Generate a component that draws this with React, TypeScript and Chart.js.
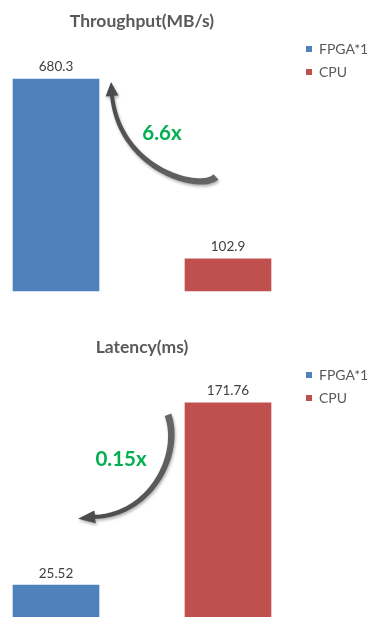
import React, { useEffect, useRef } from 'react';
import { Chart, registerables } from 'chart.js';

Chart.register(...registerables);

// ---- data ----
const CATEGORIES = ['FPGA*1', 'CPU'];
const THROUGHPUT = [680.3, 102.9];
const LATENCY = [25.52, 171.76];
const TITLES = ['Throughput(MB/s)', 'Latency(ms)'];
const COLORS = ['#4f81bd', '#c0504d'];

const FONT = 'Lato';

// canvas is shifted left so the plot area (and the title centred on it) matches the reference
const CANVAS_SHIFT = 13;
const CANVAS_W = 372 + CANVAS_SHIFT;

type Pt = [number, number];
type ArrowSpec = { p0: Pt; c1: Pt; c2: Pt; p3: Pt; tip: Pt; text: Pt };

// Arrow geometry in "bar space": u from FPGA bar centre (0) to CPU bar centre (1),
// v from the taller bar's top (0) to the shorter bar's top (1).
const ARROW_UP: ArrowSpec = {
  p0: [0.93, 0.544], c1: [0.837, 0.628], c2: [0.372, 0.506], p3: [0.326, 0.094], tip: [0.32, 0.017], text: [0.616, 0.3],
};
const ARROW_DOWN: ArrowSpec = {
  p0: [0.651, 0.065], c1: [0.733, 0.288], c2: [0.547, 0.614], p3: [0.227, 0.625], tip: [0.128, 0.636], text: [0.378, 0.31],
};

function annotationPlugin(ratioLabel: string, arrow: ArrowSpec) {
  return {
    id: 'annot',
    afterDatasetsDraw(chart: any) {
      const ctx: CanvasRenderingContext2D = chart.ctx;
      const bars = chart.data.datasets.map((_: any, i: number) => chart.getDatasetMeta(i).data[0]);
      // value labels
      ctx.save();
      ctx.font = `13.5px ${FONT}`;
      ctx.fillStyle = '#404040';
      ctx.textAlign = 'center';
      ctx.textBaseline = 'middle';
      chart.data.datasets.forEach((ds: any, i: number) => {
        const el = bars[i];
        const v = ds.data[0].y;
        ctx.fillText(String(v), el.x, el.y - 12);
      });
      ctx.restore();

      const fp = bars[0];
      const cp = bars[1];
      const tall = fp.y < cp.y ? fp : cp;
      const short = fp.y < cp.y ? cp : fp;
      const X = (u: number) => fp.x + u * (cp.x - fp.x);
      const Y = (v: number) => tall.y + v * (short.y - tall.y);
      const P = (p: Pt): Pt => [X(p[0]), Y(p[1])];
      const p0 = P(arrow.p0), c1 = P(arrow.c1), c2 = P(arrow.c2), p3 = P(arrow.p3), tip = P(arrow.tip);

      const N = 60;
      const left: Pt[] = [];
      const right: Pt[] = [];
      for (let i = 0; i <= N; i++) {
        const t = i / N;
        const mt = 1 - t;
        const bx = mt * mt * mt * p0[0] + 3 * mt * mt * t * c1[0] + 3 * mt * t * t * c2[0] + t * t * t * p3[0];
        const by = mt * mt * mt * p0[1] + 3 * mt * mt * t * c1[1] + 3 * mt * t * t * c2[1] + t * t * t * p3[1];
        const dx = 3 * mt * mt * (c1[0] - p0[0]) + 6 * mt * t * (c2[0] - c1[0]) + 3 * t * t * (p3[0] - c2[0]);
        const dy = 3 * mt * mt * (c1[1] - p0[1]) + 6 * mt * t * (c2[1] - c1[1]) + 3 * t * t * (p3[1] - c2[1]);
        const len = Math.hypot(dx, dy) || 1;
        const nx = -dy / len, ny = dx / len;
        const w = (7 + (4 - 7) * t) / 2;
        left.push([bx + nx * w, by + ny * w]);
        right.push([bx - nx * w, by - ny * w]);
      }
      const ddx = tip[0] - p3[0], ddy = tip[1] - p3[1];
      const dl = Math.hypot(ddx, ddy) || 1;
      const hx = -ddy / dl, hy = ddx / dl;
      const hw = 6.5;

      const grad = ctx.createLinearGradient(p0[0], p0[1], tip[0], tip[1]);
      grad.addColorStop(0, '#666666');
      grad.addColorStop(1, '#4a4a4a');

      ctx.save();
      ctx.shadowColor = 'rgba(0,0,0,0.3)';
      ctx.shadowBlur = 3;
      ctx.shadowOffsetX = 1;
      ctx.shadowOffsetY = 2;
      ctx.fillStyle = grad;
      ctx.beginPath();
      ctx.moveTo(left[0][0], left[0][1]);
      for (let i = 1; i <= N; i++) ctx.lineTo(left[i][0], left[i][1]);
      ctx.lineTo(p3[0] + hx * hw, p3[1] + hy * hw);
      ctx.lineTo(tip[0], tip[1]);
      ctx.lineTo(p3[0] - hx * hw, p3[1] - hy * hw);
      for (let i = N; i >= 0; i--) ctx.lineTo(right[i][0], right[i][1]);
      ctx.closePath();
      ctx.fill();
      ctx.restore();

      // ratio label
      ctx.save();
      ctx.font = `bold 20.5px ${FONT}`;
      ctx.fillStyle = '#00b050';
      ctx.textAlign = 'center';
      ctx.textBaseline = 'middle';
      const tp = P(arrow.text);
      ctx.fillText(ratioLabel, tp[0], tp[1]);
      ctx.restore();
    },
  };
}

type PanelProps = {
  title: string;
  values: number[];
  yMax: number;
  ratioLabel: string;
  arrow: ArrowSpec;
  height: number;
  padBottom: number;
};

function BarPanel({ title, values, yMax, ratioLabel, arrow, height, padBottom }: PanelProps) {
  const ref = useRef<HTMLCanvasElement>(null);
  useEffect(() => {
    const canvas = ref.current;
    if (!canvas) return;
    const chart = new Chart(canvas, {
      type: 'bar',
      data: {
        datasets: CATEGORIES.map((name, i) => ({
          label: name,
          data: [{ x: i, y: values[i] }],
          backgroundColor: COLORS[i],
          borderWidth: 0,
          barThickness: 86,
          grouped: false,
          clip: false as any,
        })),
      },
      options: {
        responsive: false,
        devicePixelRatio: 1,
        animation: false,
        events: [],
        layout: { padding: { left: 0, right: 0, top: 0, bottom: padBottom } },
        scales: {
          x: { type: 'linear', offset: false, min: -0.4012, max: 1.4012, display: false },
          y: { min: 0, max: yMax, display: false },
        },
        plugins: {
          tooltip: { enabled: false },
          title: {
            display: true,
            text: title,
            fullSize: false,
            color: '#595959',
            font: { family: FONT, size: 17.5, weight: 'bold' },
            padding: { top: 10.5, bottom: 1.5 },
          },
          legend: {
            display: true,
            position: 'right',
            align: 'start',
            fullSize: false,
            maxWidth: 75,
            labels: {
              boxWidth: 6,
              boxHeight: 6,
              padding: 9,
              color: '#595959',
              font: { family: FONT, size: 14 },
            },
          },
        },
      } as any,
      plugins: [annotationPlugin(ratioLabel, arrow)],
    });
    return () => chart.destroy();
  }, []);
  return (
    <canvas
      ref={ref}
      width={CANVAS_W}
      height={height}
      style={{ display: 'block', width: CANVAS_W, height, marginLeft: -CANVAS_SHIFT }}
    />
  );
}

export default function App() {
  const up = (THROUGHPUT[0] / THROUGHPUT[1]).toFixed(1) + 'x';
  const down = (LATENCY[0] / LATENCY[1]).toFixed(2) + 'x';
  return (
    <div style={{ position: 'absolute', left: 0, top: 0, width: 372, height: 617, background: '#ffffff', overflow: 'hidden' }}>
      <BarPanel title={TITLES[0]} values={THROUGHPUT} yMax={828} ratioLabel={up} arrow={ARROW_UP} height={326} padBottom={35} />
      <BarPanel title={TITLES[1]} values={LATENCY} yMax={207} ratioLabel={down} arrow={ARROW_DOWN} height={291} padBottom={0} />
    </div>
  );
}
